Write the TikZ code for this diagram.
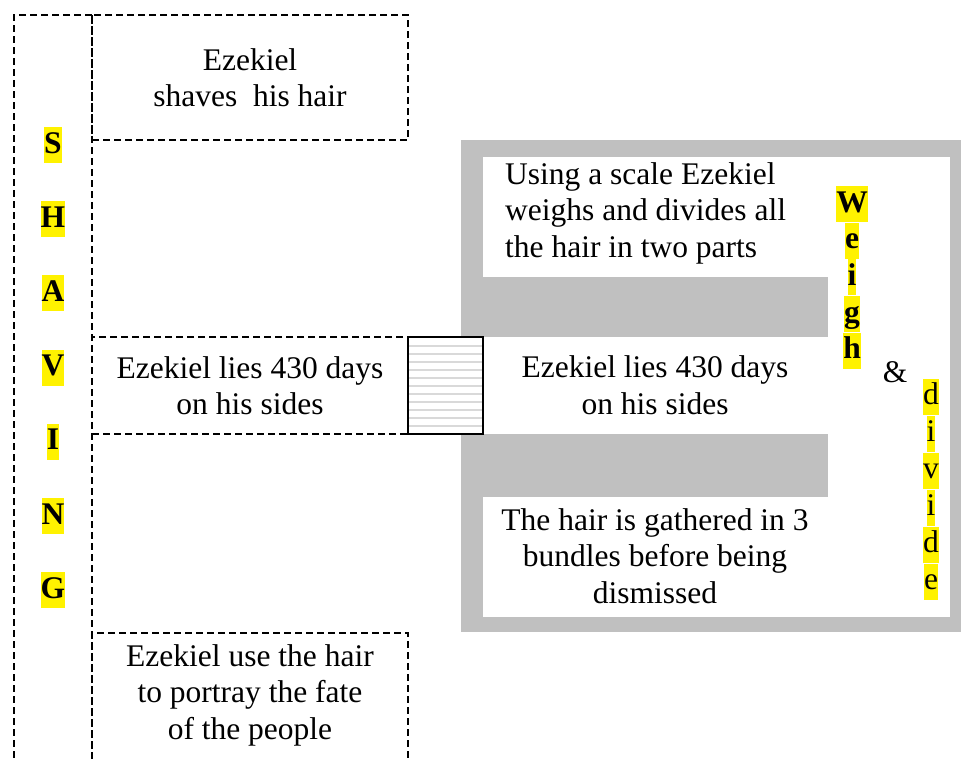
\documentclass[tikz,border=0pt]{standalone}
\usepackage{fontspec}
\setmainfont{Liberation Serif}
\usetikzlibrary{positioning,calc}
\definecolor{framegray}{RGB}{192,192,192}

\begin{document}
\begin{tikzpicture}[
    x=1pt, y=-1pt,
    every node/.style={font=\fontsize{31.5}{36.5}\selectfont},
    dashbox/.style={draw, line width=1.3pt, dash pattern=on 7pt off 4pt},
    txt/.style={align=center, inner sep=0pt},
    hl/.style={fill=yellow, inner sep=0pt, text height=26pt, text depth=10pt, font=\fontsize{31.5}{36.5}\selectfont\bfseries},
    hlr/.style={hl, font=\fontsize{31.5}{36.5}\selectfont},
    padbox/.style={draw, line width=1.5pt, minimum width=75pt, minimum height=97pt}
]
    \useasboundingbox (0,0) rectangle (961,758);

    \fill[framegray] (461,140) rectangle (961,632);
    \fill[white] (483,157) rectangle (828,277);
    \fill[white] (483,337) rectangle (950,434);
    \fill[white] (828,157) rectangle (950,617);
    \fill[white] (483,497) rectangle (828,617);

    \draw[dashbox] (92,15) -- (14,15) -- (14,760);
    \draw[dashbox] (92,15) -- (92,760);
    \node [dashbox, txt, minimum width=316pt, minimum height=125pt] (shave) at (250,77.5) {Ezekiel\\shaves\ \ his hair};
    \node [dashbox, txt, minimum width=316pt, minimum height=97pt] (lies) at (250,385.5) {Ezekiel lies 430 days\\on his sides};
    \draw[dashbox] (92,760) -- (92,633) -- (408,633) -- (408,760);
    \node [txt] (fate) at (250,695) {Ezekiel use the hair\\to portray the fate\\of the people};

    \node [padbox, fill=white] (pad) at (445.5,385.5) {};
    \foreach \y in {346,354,...,426}
        \draw[gray!30, line width=2pt] ($(pad.west)+(2,\y-385.5)$) -- ($(pad.east)+(-2,\y-385.5)$);
    \node [padbox] at (pad) {};

    \node [txt, align=left, anchor=west] (scale) at (505,213) {Using a scale Ezekiel\\weighs and divides all\\the hair in two parts};
    \node [txt] (lies2) at (655,385) {Ezekiel lies 430 days\\on his sides};
    \node [txt] (bundle) at (655,556) {The hair is gathered in 3\\bundles before being\\dismissed};

    \foreach \l [count=\i] in {S,H,A,V,I,N,G}
        \node [hl] (shaving\i) at (53,{145+74.2*(\i-1)}) {\l};
    \foreach \l [count=\i] in {W,e,i,g,h}
        \node [hl] (weigh\i) at (852,{204+36.7*(\i-1)}) {\l};
    \node (amp) at (895,372) {\&};
    \foreach \l [count=\i] in {d,i,v,i,d,e}
        \node [hlr] (divide\i) at (931,{396.5+37*(\i-1)}) {\l};
\end{tikzpicture}
\end{document}
